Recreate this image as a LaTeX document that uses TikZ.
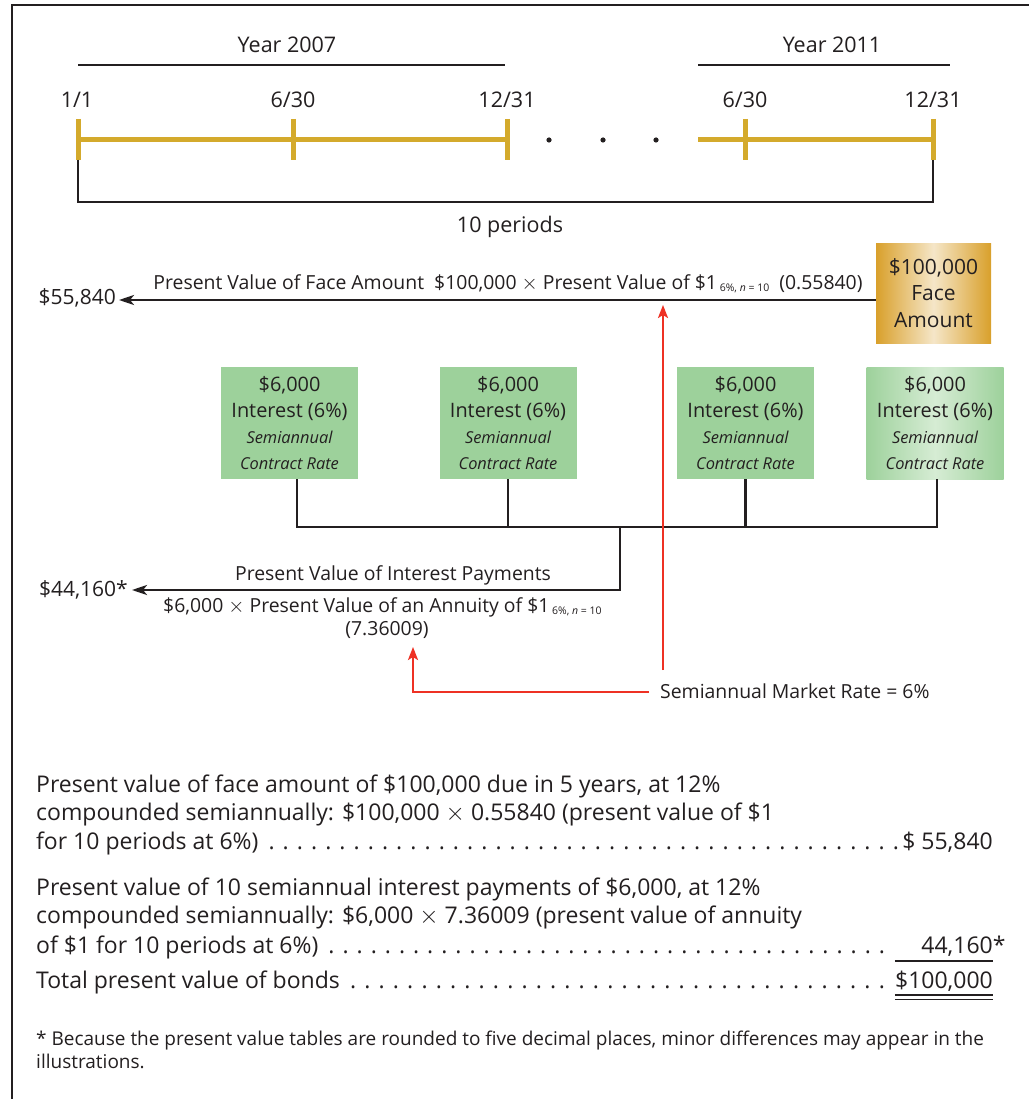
\documentclass[tikz,border=0pt]{standalone}
\usepackage{fontspec}
\setmainfont{Open Sans}
\usetikzlibrary{arrows.meta}
\definecolor{tlgold}{HTML}{D4AA2C}
\definecolor{facegold}{HTML}{D9A02B}
\definecolor{facelight}{HTML}{F5E6C8}
\definecolor{boxgreen}{HTML}{9DD19B}
\definecolor{boxlight}{HTML}{D6ECD4}
\definecolor{mkred}{HTML}{EE3124}
\definecolor{ink}{HTML}{231F20}
\newcommand\fsBig{\fontsize{21.5}{26.5}\selectfont}
\newcommand\fsFace{\fontsize{21}{26.5}\selectfont}
\newcommand\fsMid{\fontsize{19.4}{26}\selectfont}
\newcommand\fsBox{\fontsize{19.9}{26}\selectfont}
\newcommand\fsIt{\fontsize{16.4}{21}\selectfont\itshape}
\newcommand\fsSub{\fontsize{10.5}{12}\selectfont}
\newcommand\fsCalc{\fontsize{23}{28}\selectfont}
\newcommand\fsFoot{\fontsize{19}{23}\selectfont}
\newcommand\subsix{\raisebox{-2pt}{\fsSub\ 6\%, \textit{n} = 10}}
\newcommand\dotlead{\xleaders\hbox to 14pt{\hss.\hss}\hfill}
\begin{document}
\begin{tikzpicture}[x=1pt,y=-1pt,
  every node/.style={text=ink, inner sep=0pt},
  goldline/.style={draw=tlgold, line width=5pt},
  goldtick/.style={draw=tlgold, line width=5pt},
  blk/.style={draw=ink, line width=2.2pt},
  arr/.style={draw=ink, line width=2.5pt, -{Stealth[length=15pt,width=10pt,inset=4pt]}},
  redarr/.style={draw=mkred, line width=2.2pt, -{Stealth[length=13pt,width=10pt,inset=3pt]}},
  gbox/.style={fill=boxgreen, minimum width=137pt, minimum height=112pt, align=center, font=\fsBox},
  lbl/.style={font=\fsMid, anchor=base},
  big/.style={font=\fsCalc, anchor=base west},
  rule/.style={draw=ink, line width=1.4pt},
]
\useasboundingbox (0,0) rectangle (1029,1099);
\fill[white] (0,0) rectangle (1029,1099);
% frame
\draw[draw=ink, line width=1.3pt] (12,1099) -- (12,5) -- (1029,5);

% years
\node[font=\fsBig, anchor=base] (y1) at (287,53) {Year 2007};
\node[font=\fsBig, anchor=base] (y2) at (832,53) {Year 2011};
\draw[blk] (78,65) -- (505,65);
\draw[blk] (698,65) -- (950,65);

% dates
\node[font=\fsBig, anchor=base] (d1) at (77,108) {1/1};
\node[font=\fsBig, anchor=base] (d2) at (293,108) {6/30};
\node[font=\fsBig, anchor=base] (d3) at (507,108) {12/31};
\node[font=\fsBig, anchor=base] (d4) at (745,108) {6/30};
\node[font=\fsBig, anchor=base] (d5) at (933,108) {12/31};

% timeline
\coordinate (t1) at (78,140);
\coordinate (t3) at (507,140);
\coordinate (t4) at (698,140);
\coordinate (t6) at (933,140);
\draw[goldline] (t1) -- (t3);
\draw[goldline] (t4) -- (t6);
\foreach \x in {78,293,507,745,933} \draw[goldtick] (\x,119) -- (\x,160);
\foreach \x in {549,603,656} \fill[ink] (\x,140) circle (2.6pt);

% bracket
\draw[blk] (78,160) -- (78,202) -- (933,202) -- (933,160);
\node[font=\fsBig, anchor=base] (per) at (510,233) {10 periods};

% face amount
\node[minimum width=115pt, minimum height=100pt, left color=facegold, right color=facegold, middle color=facelight, align=center, font=\fsFace] (face) at (933.5,293) {\$100,000\\Face\\Amount};
\node[font=\fsFace, anchor=east] (v55) at (116,298) {\$55,840};
\draw[arr] (face.west |- 0,300) -- ([xshift=3pt]v55.east |- 0,300);
\node[lbl] (facelbl) at (508,289) {Present Value of Face Amount\ \ \$100,000 $\times$ Present Value of \$1\subsix\ \ (0.55840)};

% interest boxes
\node[gbox] (g1) at (289.5,423) {\$6,000\\Interest (6\%)\\{\fsIt Semiannual}\\{\fsIt Contract Rate}};
\node[gbox] (g2) at (508,423) {\$6,000\\Interest (6\%)\\{\fsIt Semiannual}\\{\fsIt Contract Rate}};
\node[gbox] (g3) at (745.5,423) {\$6,000\\Interest (6\%)\\{\fsIt Semiannual}\\{\fsIt Contract Rate}};
\node[gbox, fill=none, left color=boxgreen, right color=boxgreen, middle color=boxlight] (g4) at (935,423) {\$6,000\\Interest (6\%)\\{\fsIt Semiannual}\\{\fsIt Contract Rate}};

\coordinate (b1) at (297,527);
\coordinate (b4) at (937,527);
\coordinate (bj) at (620,527);
\draw[blk] (g1.south -| b1) -- (b1) -- (b4) -- (g4.south -| b4);
\draw[blk] (g2.south) -- (g2.south |- b1);
\draw[blk] (g3.south) -- (g3.south |- b1);

\node[font=\fsFace, anchor=east] (v44) at (128,590) {\$44,160*};
\draw[arr] (bj) -- (bj |- 0,590) -- ([xshift=4pt]v44.east |- 0,590);
\node[lbl] (intlbl) at (393,580) {Present Value of Interest Payments};
\node[lbl, anchor=base west] (annlbl) at (163,612) {\$6,000 $\times$ Present Value of an Annuity of \$1\subsix};
\node[lbl] (ann) at (387,635) {(7.36009)};

% market rate
\node[lbl, anchor=base west] (mr) at (660,698) {Semiannual Market Rate = 6\%};
\coordinate (r1) at (663,670);
\coordinate (r2) at (663,305);
\coordinate (r3) at (649,692);
\coordinate (r4) at (413,692);
\coordinate (r5) at (413,647);
\draw[redarr] (r1) -- (r2);
\draw[redarr] (r3) -- (r4) -- (r5);

% computation text
\node[big] (l1) at (36,792) {Present value of face amount of \$100,000 due in 5 years, at 12\%};
\node[big] (l2) at (36,820) {compounded semiannually: \$100,000 $\times$ 0.55840 (present value of \$1};
\node[big] (l3) at (36,849) {\hbox to 867pt{for 10 periods at 6\%)\ \dotlead}};
\node[big, anchor=base east] (a1) at (993,849) {\$ 55,840};
\node[big] (l4) at (36,895) {Present value of 10 semiannual interest payments of \$6,000, at 12\%};
\node[big] (l5) at (36,923) {compounded semiannually: \$6,000 $\times$ 7.36009 (present value of annuity};
\node[big] (l6) at (36,953) {\hbox to 853pt{of \$1 for 10 periods at 6\%)\ \dotlead}};
\node[big, anchor=base east] (a2) at (993,953) {44,160\rlap{*}};
\node[big] (l7) at (36,988) {\hbox to 853pt{Total present value of bonds\ \dotlead}};
\node[big, anchor=base east] (a3) at (993,988) {\$100,000};
\draw[rule] (a3.west |- 0,961) -- (a2.east |- 0,961);
\draw[rule] (a3.west |- 0,995) -- (a3.east |- 0,995);
\draw[rule] (a3.west |- 0,999.5) -- (a3.east |- 0,999.5);

% footnote
\node[font=\fsFoot, anchor=base west] (f1) at (36,1045) {* Because the present value tables are rounded to five decimal places, minor differences may appear in the};
\node[font=\fsFoot, anchor=base west] (f2) at (36,1068) {illustrations.};
\end{tikzpicture}
\end{document}
